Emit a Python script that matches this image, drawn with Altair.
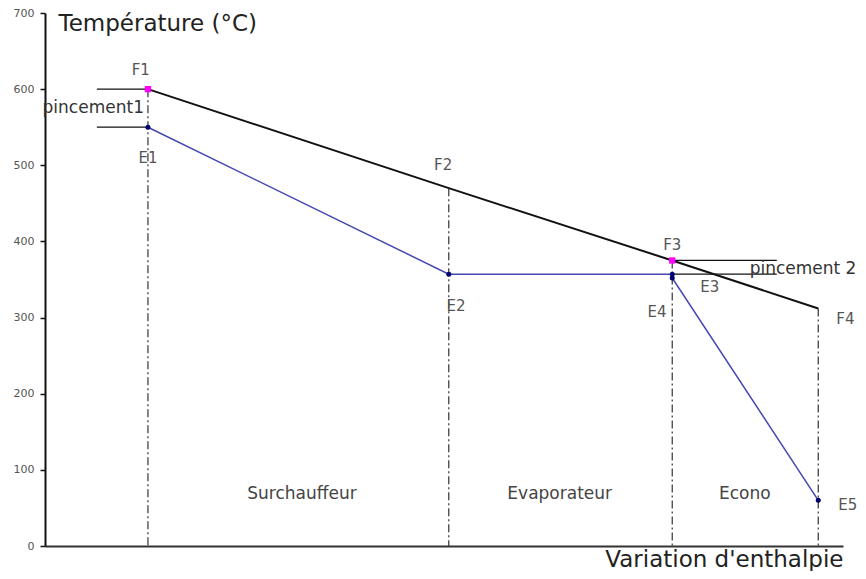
import altair as alt
import pandas as pd

# Hot (fumées) line points
F_names = ["F1", "F2", "F3", "F4"]
F_x = [12.9, 50.6, 78.6, 96.9]
F_y = [600, 470, 375, 312]

# Cold (eau/vapeur) line points
E_names = ["E1", "E2", "E3", "E4", "E5"]
E_x = [12.9, 50.6, 78.6, 78.6, 96.9]
E_y = [550, 357, 357, 352, 60]

# Pinch markers (pink)
pinch_x = [12.9, 78.6]
pinch_y = [600, 375]

# Pincement horizontal segments
seg_x = [6.5, 78.6, 6.5, 78.6]
seg_x2 = [12.9, 91.7, 12.9, 91.7]
seg_y = [600, 375, 550, 357]

# Vertical dash-dot lines
vline_x = [12.9, 50.6, 78.6, 96.9]
vline_top = [600, 470, 375, 312]

# Point labels
lab_text = ["F1", "E1", "F2", "E2", "F3", "E3", "E4", "F4", "E5"]
lab_x = [12.0, 12.9, 49.9, 51.5, 78.6, 83.3, 76.7, 100.3, 100.6]
lab_y = [625, 509, 500, 315, 395, 340, 307, 298, 54]

# Zone labels
zone_text = ["Surchauffeur", "Evaporateur", "Econo"]
zone_x = [32.2, 64.5, 87.7]
zone_y = [68, 68, 68]

pinc_text = ["pincement1", "pincement 2"]
pinc_x = [12.4, 88.3]
pinc_y = [575, 364]
pinc_align = ["right", "left"]

y_ticks = [0, 100, 200, 300, 400, 500, 600, 700]

FONT = "DejaVu Sans"

dfF = pd.DataFrame({"name": F_names, "x": F_x, "y": F_y})
dfE = pd.DataFrame({"name": E_names, "x": E_x, "y": E_y, "order": list(range(len(E_x)))})
dfP = pd.DataFrame({"x": pinch_x, "y": pinch_y})
dfS = pd.DataFrame({"x": seg_x, "x2": seg_x2, "y": seg_y})
dfV = pd.DataFrame({"x": vline_x, "y": vline_top, "y0": [0] * len(vline_x)})
dfL = pd.DataFrame({"t": lab_text, "x": lab_x, "y": lab_y})
dfZ = pd.DataFrame({"t": zone_text, "x": zone_x, "y": zone_y})
dfPi = pd.DataFrame({"t": pinc_text, "x": pinc_x, "y": pinc_y, "a": pinc_align})

xs = alt.Scale(domain=[0, 100], nice=False, zero=False)
ys = alt.Scale(domain=[0, 700], nice=False)

X = alt.X("x:Q", scale=xs,
          axis=alt.Axis(title="Variation d'enthalpie", ticks=False, labels=False, grid=False,
                        domainColor="#333", domainWidth=2,
                        titleFont=FONT, titleFontSize=23, titleFontWeight="normal",
                        titleColor="#222", titleAlign="right", titleAnchor="end",
                        titleX=798, titleY=20, titleBaseline="alphabetic"))
Y = alt.Y("y:Q", scale=ys,
          axis=alt.Axis(title="Température (°C)", values=y_ticks, grid=False,
                        domainColor="#111", domainWidth=2, tickColor="#111", tickWidth=1.5,
                        tickSize=5, labelFont=FONT, labelFontSize=11, labelColor="#555",
                        labelPadding=6,
                        titleFont=FONT, titleFontSize=23, titleFontWeight="normal",
                        titleColor="#222", titleAngle=0, titleAlign="left",
                        titleX=13, titleY=10, titleBaseline="middle"))

vlines = alt.Chart(dfV).mark_rule(color="#333", strokeWidth=1.2, strokeDash=[8, 3, 2, 3]).encode(
    x=X, y=Y, y2="y0:Q")

segs = alt.Chart(dfS).mark_rule(color="#111", strokeWidth=1.3).encode(
    x="x:Q", x2="x2:Q", y="y:Q")

lineF = alt.Chart(dfF).mark_line(color="#111", strokeWidth=2).encode(x="x:Q", y="y:Q")
lineE = alt.Chart(dfE).mark_line(color="#4646b4", strokeWidth=1.5).encode(
    x="x:Q", y="y:Q", order="order:Q")
ptsE = alt.Chart(dfE).mark_point(filled=True, color="#000070", size=25, opacity=1).encode(
    x="x:Q", y="y:Q")
ptsP = alt.Chart(dfP).mark_square(color="#ff00ff", size=40, opacity=1).encode(x="x:Q", y="y:Q")

labels = alt.Chart(dfL).mark_text(font=FONT, fontSize=15, color="#555", align="center",
                                  baseline="middle").encode(x="x:Q", y="y:Q", text="t:N")
zones = alt.Chart(dfZ).mark_text(font=FONT, fontSize=17, color="#444", align="center",
                                 baseline="middle").encode(x="x:Q", y="y:Q", text="t:N")
pinc_l = alt.Chart(dfPi[dfPi.a == "right"]).mark_text(font=FONT, fontSize=17, color="#333",
                                                     align="right", baseline="middle").encode(
    x="x:Q", y="y:Q", text="t:N")
pinc_r = alt.Chart(dfPi[dfPi.a == "left"]).mark_text(font=FONT, fontSize=17, color="#333",
                                                    align="left", baseline="middle").encode(
    x="x:Q", y="y:Q", text="t:N")

chart = alt.layer(vlines, segs, lineF, lineE, ptsE, ptsP, labels, zones, pinc_l, pinc_r).properties(
    width=798, height=533,
    background="white",
    autosize=alt.AutoSizeParams(type="none"),
    padding={"left": 37, "top": 5, "right": 15, "bottom": 25},
).configure_view(strokeWidth=0)

chart.save("out.html", embed_options={"renderer": "svg", "actions": False})
